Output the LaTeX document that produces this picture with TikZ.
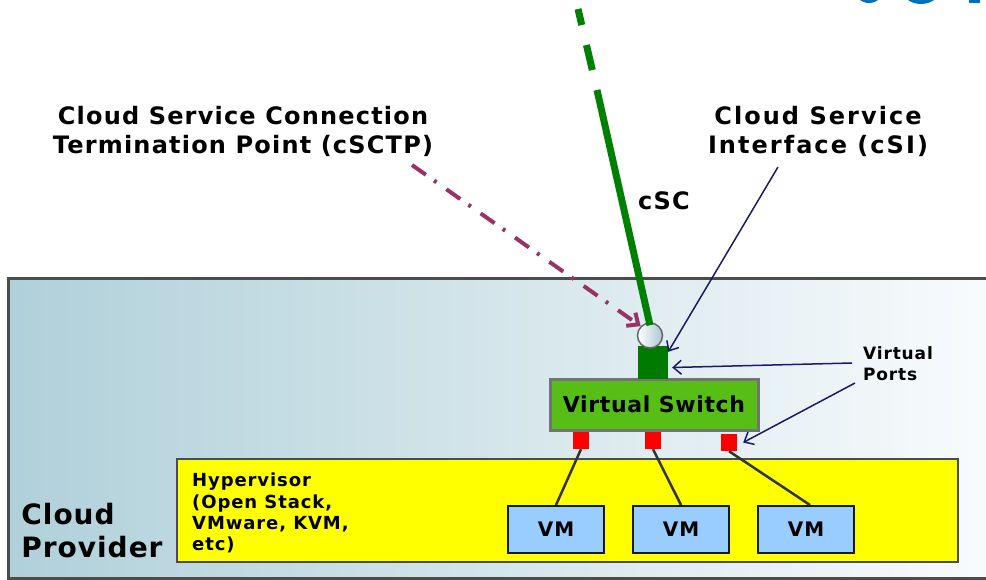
\documentclass[tikz,border=0pt]{standalone}
\usepackage{fontspec}
\setmainfont{DejaVu Sans}[LetterSpace=5]
\usepackage{tikz}
\usetikzlibrary{positioning,arrows.meta}

\definecolor{provleft}{RGB}{176,208,218}
\definecolor{provright}{RGB}{250,252,253}
\definecolor{swgreen}{RGB}{86,190,20}
\definecolor{csigreen}{RGB}{0,122,0}
\definecolor{cscgreen}{RGB}{0,128,0}
\definecolor{vmblue}{RGB}{153,204,255}
\definecolor{tppurple}{RGB}{153,51,102}
\definecolor{navy}{RGB}{26,26,102}
\definecolor{logoblue}{RGB}{0,112,192}
\definecolor{hvyellow}{RGB}{255,255,0}

\begin{document}
\begin{tikzpicture}[x=1pt,y=-1pt,
  every node/.style={inner sep=0pt},
  box/.style={draw=black!70,line width=2.5pt,rectangle},
  hypbox/.style={box,fill=hvyellow,minimum width=781pt,minimum height=103pt},
  vswitch/.style={box,draw=black!55,line width=3pt,fill=swgreen,minimum width=208pt,minimum height=51pt,font=\fontsize{22}{26}\selectfont\bfseries\addfontfeature{LetterSpace=3}},
  vmbox/.style={draw=black!90,line width=2pt,fill=vmblue,minimum width=96pt,minimum height=47pt,font=\fontsize{20}{24}\selectfont\bfseries},
  vport/.style={fill=red,minimum width=16pt,minimum height=17pt},
  bigtext/.style={align=center,font=\fontsize{24}{29}\selectfont\bfseries},
  wire/.style={black!80,line width=2.5pt},
  pointer/.style={navy,line width=1.5pt,-{Straight Barb[length=8pt,width=14pt]}},
  tpptr/.style={tppurple,line width=4pt,dash pattern=on 17pt off 10pt on 3pt off 12pt,-{Straight Barb[length=9pt,width=16pt]}},
]
\useasboundingbox (0,0) rectangle (986,579);
\begin{scope}
\clip (0,0) rectangle (986,579);
% cloud provider area
\node[anchor=north west,draw=black!70,line width=3pt,left color=provleft,right color=provright,
  minimum width=1000pt,minimum height=300pt] (prov) at (7,277) {};
% logo remains at the top edge
\fill[logoblue] (869,-12) ellipse [x radius=15pt,y radius=15pt];
\fill[logoblue] (921,-14) ellipse [x radius=21pt,y radius=18pt];
\fill[logoblue] (969,-10) rectangle (980,3);
\end{scope}

\node[hypbox] (hyp) at (567.5,510.5) {};
\node[vmbox] (vm1) at (556,529.5) {VM};
\node[vmbox] (vm2) at (681,529.5) {VM};
\node[vmbox] (vm3) at (806,529.5) {VM};
\node[vport] (vp1) at (581,440.5) {};
\node[vport] (vp2) at (653,440.5) {};
\node[vport] (vp3) at (729,442.5) {};
\draw[wire] (vp1.south) -- (vm1.north);
\draw[wire] (vp2.south) -- (vm2.north);
\draw[wire] (vp3.south) -- ([xshift=4pt]vm3.north);

\node[vswitch] (vsw) at (654,404.5) {Virtual Switch};
\node[fill=csigreen,minimum width=30pt,minimum height=33pt] (csi) at (653,362.5) {};
\node[circle,draw=black!60,line width=1.5pt,left color=white,right color=provleft!80!black!20!provleft,
  minimum size=25pt] (sctp) at (650,335.5) {};

% the cSC leg, dashed where it leaves the picture
\coordinate (cscmid) at (597,90);
\coordinate (cscend) at (578,9);
\draw[cscgreen,line width=7pt] ([yshift=-3pt]sctp.north) -- (cscmid);
\draw[cscgreen,line width=7pt,dash pattern=on 16.5pt off 20.5pt on 25.7pt off 20.5pt] (cscend) -- (cscmid);

\node[bigtext] (tplabel) at (243,131) {Cloud Service Connection\\Termination Point (cSCTP)};
\node[bigtext,font=\fontsize{24}{29}\selectfont\bfseries\addfontfeature{LetterSpace=8.5}] (csilabel) at (818,131) {Cloud Service\\Interface (cSI)};
\node[font=\fontsize{24}{29}\selectfont\bfseries] (csclabel) at (664,201) {cSC};
\node[align=left,font=\fontsize{17}{21}\selectfont\bfseries] (vplabel) at (898,364) {Virtual\\Ports};
\node[align=left,font=\fontsize{28}{33}\selectfont\bfseries\addfontfeature{LetterSpace=3.5}] (provlabel) at (92,531) {Cloud\\Provider};
\node[anchor=north west,align=left,font=\fontsize{18}{21.3}\selectfont\bfseries] (hvlabel) at (192,473) {Hypervisor\\(Open Stack,\\VMware, KVM,\\etc)};

\coordinate (tptail) at (412,165);
\coordinate (csitail) at (778,167);
\coordinate (vptail1) at (852,363);
\coordinate (vptail2) at (855,383);
\draw[tpptr] (tptail) -- (sctp.north west);
\draw[pointer] (csitail) -- ([yshift=-6pt]csi.north east);
\draw[pointer] (vptail1) -- ([xshift=4pt,yshift=-5pt]csi.east);
\draw[pointer] (vptail2) -- ([xshift=6pt]vp3.east);
\end{tikzpicture}
\end{document}
